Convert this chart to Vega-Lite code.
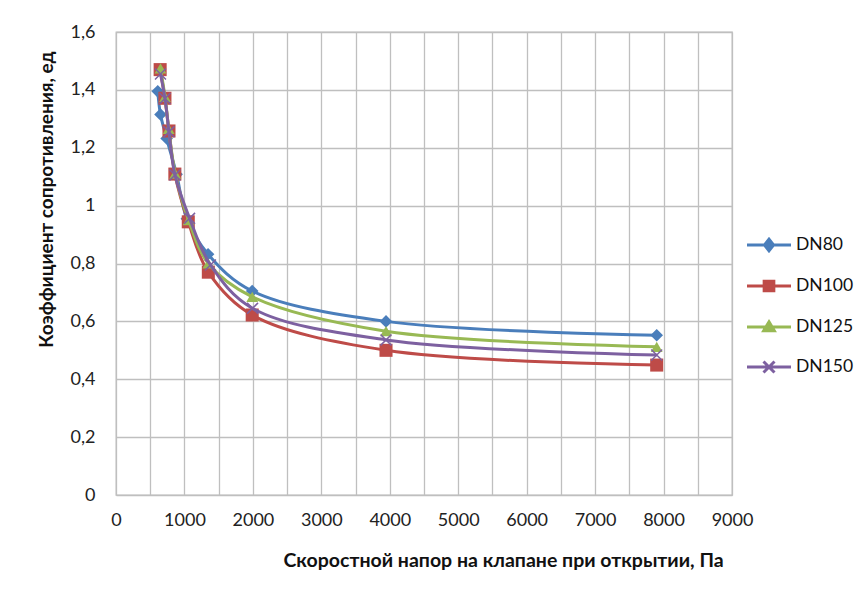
{
  "$schema": "https://vega.github.io/schema/vega-lite/v6.json",
  "width": 616,
  "height": 463,
  "autosize": {"type": "none"},
  "padding": {"left": 116, "top": 32, "right": 131, "bottom": 94},
  "background": "white",
  "config": {
    "view": {"stroke": "#bfbfbf", "strokeWidth": 1.3},
    "font": "Lato, 'Open Sans', sans-serif",
    "axis": {"labelFont": "Lato, 'Open Sans', sans-serif", "titleFont": "Lato, 'Open Sans', sans-serif", "labelFlush": false, "labelOverlap": false}
  },
  "data": {
    "values": [
      {"series": "DN80", "x": 610, "y": 1.395},
      {"series": "DN80", "x": 650, "y": 1.315},
      {"series": "DN80", "x": 740, "y": 1.232},
      {"series": "DN80", "x": 885, "y": 1.108},
      {"series": "DN80", "x": 1035, "y": 0.955},
      {"series": "DN80", "x": 1345, "y": 0.832},
      {"series": "DN80", "x": 1990, "y": 0.705},
      {"series": "DN80", "x": 3945, "y": 0.6},
      {"series": "DN80", "x": 7900, "y": 0.552},
      {"series": "DN100", "x": 645, "y": 1.47},
      {"series": "DN100", "x": 715, "y": 1.371},
      {"series": "DN100", "x": 774, "y": 1.258},
      {"series": "DN100", "x": 860, "y": 1.109},
      {"series": "DN100", "x": 1056, "y": 0.944},
      {"series": "DN100", "x": 1349, "y": 0.77},
      {"series": "DN100", "x": 1990, "y": 0.622},
      {"series": "DN100", "x": 3945, "y": 0.5},
      {"series": "DN100", "x": 7900, "y": 0.449},
      {"series": "DN125", "x": 650, "y": 1.474},
      {"series": "DN125", "x": 716, "y": 1.376},
      {"series": "DN125", "x": 770, "y": 1.265},
      {"series": "DN125", "x": 865, "y": 1.111},
      {"series": "DN125", "x": 1060, "y": 0.95},
      {"series": "DN125", "x": 1349, "y": 0.8},
      {"series": "DN125", "x": 1990, "y": 0.685},
      {"series": "DN125", "x": 3945, "y": 0.566},
      {"series": "DN125", "x": 7900, "y": 0.512},
      {"series": "DN150", "x": 650, "y": 1.455},
      {"series": "DN150", "x": 716, "y": 1.37},
      {"series": "DN150", "x": 774, "y": 1.255},
      {"series": "DN150", "x": 862, "y": 1.106},
      {"series": "DN150", "x": 1075, "y": 0.956},
      {"series": "DN150", "x": 1380, "y": 0.795},
      {"series": "DN150", "x": 1995, "y": 0.645},
      {"series": "DN150", "x": 3945, "y": 0.536},
      {"series": "DN150", "x": 7900, "y": 0.484}
    ]
  },
  "encoding": {
    "x": {
      "field": "x", "type": "quantitative",
      "scale": {"domain": [0, 9000], "nice": false, "zero": false},
      "axis": {
        "title": "Скоростной напор на клапане при открытии, Па",
        "values": [0,500,1000,1500,2000,2500,3000,3500,4000,4500,5000,5500,6000,6500,7000,7500,8000,8500,9000],
        "labelExpr": "datum.value % 1000 === 0 ? format(datum.value, 'd') : ''",
        "ticks": false, "domain": false,
        "grid": true, "gridColor": "#bfbfbf", "gridWidth": 1.3,
        "labelFontSize": 18, "labelColor": "#222", "labelPadding": 16,
        "titleFontSize": 19.5, "titleFontWeight": "bold", "titleColor": "#111",
        "titleX": 387, "titleY": 65, "titleBaseline": "middle", "titleAnchor": null, "titleAlign": "center"
      }
    },
    "y": {
      "field": "y", "type": "quantitative",
      "scale": {"domain": [0, 1.6], "nice": false},
      "axis": {
        "title": "Коэффициент сопротивления, ед",
        "values": [0,0.2,0.4,0.6,0.8,1,1.2,1.4,1.6],
        "labelExpr": "replace(format(datum.value, '~g'), '.', ',')",
        "ticks": false, "domain": false,
        "grid": true, "gridColor": "#bfbfbf", "gridWidth": 1.3,
        "labelFontSize": 18, "labelColor": "#222", "labelPadding": 21,
        "titleFontSize": 19, "titleFontWeight": "bold", "titleColor": "#111",
        "titleX": -70, "titleY": 167, "titleAngle": -90, "titleBaseline": "middle", "titleAlign": "center", "titleAnchor": null
      }
    },
    "color": {
      "field": "series", "type": "nominal",
      "scale": {"domain": ["DN80", "DN100", "DN125", "DN150"], "range": ["#4A7EBB", "#BE4B48", "#98B954", "#7D60A0"]},
      "legend": null
    }
  },
  "layer": [
    {
      "transform": [{"filter": "datum.series === 'DN80'"}],
      "mark": {"type": "line", "interpolate": "catmull-rom", "strokeWidth": 3},
      "encoding": {
        "color": {
          "field": "series", "type": "nominal",
          "scale": {"domain": ["DN80", "DN100", "DN125", "DN150"], "range": ["#4A7EBB", "#BE4B48", "#98B954", "#7D60A0"]},
          "legend": {
            "title": null, "orient": "none", "legendX": 644, "legendY": 204,
            "padding": 0, "symbolSize": 215, "symbolStrokeWidth": 3, "labelOffset": 18,
            "labelFontSize": 17.5, "labelColor": "#111", "labelFont": "Lato, 'Open Sans', sans-serif",
            "rowPadding": 18,
            "encode": {
              "symbols": {
                "update": {
                  "shape": {"signal": "datum.value === 'DN80' ? 'M-3,0H3M0,-0.8L0.62,0L0,0.8L-0.62,0Z' : datum.value === 'DN100' ? 'M-3,0H3M-0.66,-0.66H0.66V0.66H-0.66Z' : datum.value === 'DN125' ? 'M-3,0H3M0,-0.7L0.72,0.5H-0.72Z' : 'M-3,0H3M-0.75,-0.75L0.75,0.75M-0.75,0.75L0.75,-0.75'"},
                  "fill": {"scale": "color", "field": "value"},
                  "stroke": {"scale": "color", "field": "value"},
                  "strokeWidth": {"value": 3},
                  "opacity": {"value": 1}
                }
              }
            }
          }
        }
      }
    },
    {
      "transform": [{"filter": "datum.series === 'DN80'"}],
      "mark": {"type": "point", "shape": "diamond", "filled": true, "size": 160, "opacity": 1}
    },
    {
      "transform": [{"filter": "datum.series === 'DN100'"}],
      "mark": {"type": "line", "interpolate": "catmull-rom", "strokeWidth": 3}
    },
    {
      "transform": [{"filter": "datum.series === 'DN100'"}],
      "mark": {"type": "point", "shape": "square", "filled": true, "size": 170, "opacity": 1}
    },
    {
      "transform": [{"filter": "datum.series === 'DN125'"}],
      "mark": {"type": "line", "interpolate": "catmull-rom", "strokeWidth": 3}
    },
    {
      "transform": [{"filter": "datum.series === 'DN125'"}],
      "mark": {"type": "point", "shape": "triangle-up", "filled": true, "size": 140, "opacity": 1}
    },
    {
      "transform": [{"filter": "datum.series === 'DN150'"}],
      "mark": {"type": "line", "interpolate": "catmull-rom", "strokeWidth": 3}
    },
    {
      "transform": [{"filter": "datum.series === 'DN150'"}],
      "mark": {"type": "point", "shape": "M-1,-1L1,1M-1,1L1,-1", "filled": false, "size": 120, "strokeWidth": 1.5, "opacity": 1}
    }
  ]
}
